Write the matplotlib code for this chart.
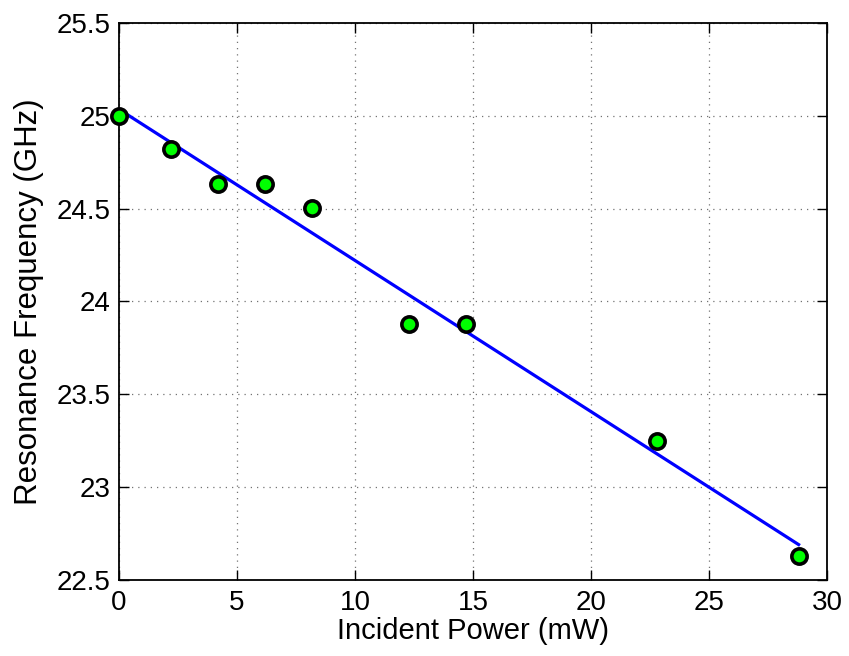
import numpy as np
import matplotlib
matplotlib.use('Agg')
import matplotlib.pyplot as plt

# incident power (mW) and measured resonance frequency (GHz)
power = np.array([0.0, 2.2, 4.2, 6.2, 8.2, 12.3, 14.7, 22.8, 28.8])
freq = np.array([25.0, 24.82, 24.63, 24.63, 24.505, 23.88, 23.88, 23.25, 22.63])

x_ticks = [0, 5, 10, 15, 20, 25, 30]
y_ticks = [22.5, 23, 23.5, 24, 24.5, 25, 25.5]
y_tick_labels = ['22.5', '23', '23.5', '24', '24.5', '25', '25.5']

plt.rcParams['font.family'] = ['Liberation Sans', 'DejaVu Sans']

def main():
    fig = plt.figure(figsize=(8.49, 6.56), dpi=100)
    ax = fig.add_axes([0.140, 0.116, 0.834, 0.849])

    # linear fit
    slope, intercept = np.polyfit(power, freq, 1)
    fit_x = np.array([power.min(), power.max()])
    ax.plot(fit_x, slope * fit_x + intercept, color=(0, 0, 1), lw=2.3, zorder=3)

    ax.plot(power, freq, 'o', markersize=11, markerfacecolor=(0, 1, 0),
            markeredgecolor='black', markeredgewidth=2.6, zorder=4, clip_on=False)

    ax.set_xlim(0, 30)
    ax.set_ylim(22.5, 25.5)
    ax.set_xticks(x_ticks)
    ax.set_yticks(y_ticks)
    ax.set_yticklabels(y_tick_labels)

    ax.grid(True, linestyle=(0, (1, 4)), color='0.45', lw=0.9)
    ax.set_axisbelow(True)

    ax.tick_params(direction='in', top=True, right=True, length=7, width=1,
                   labelsize=20)
    ax.tick_params(axis='x', pad=7)
    ax.tick_params(axis='y', pad=6)
    for side in ax.spines.values():
        side.set_linewidth(1.3)

    ax.set_xlabel('Incident Power (mW)', fontsize=21, labelpad=1)
    ax.set_ylabel('Resonance Frequency (GHz)', fontsize=22.5, labelpad=9)

    fig.savefig('out.png', dpi=100)

if __name__ == '__main__':
    main()
